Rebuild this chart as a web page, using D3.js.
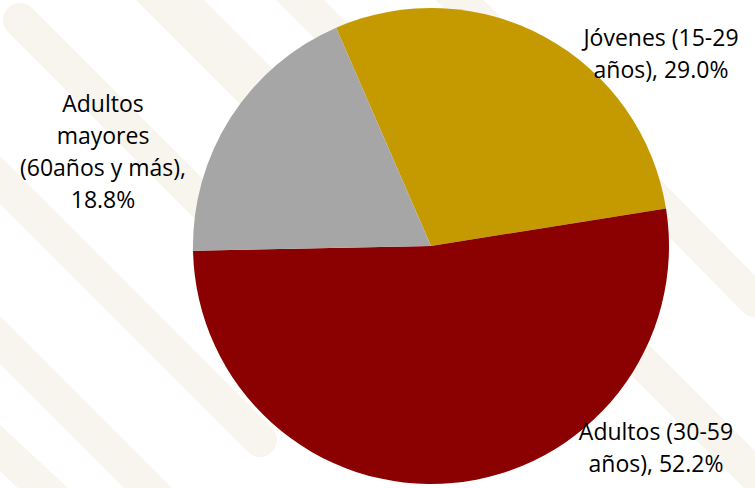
<!DOCTYPE html>
<html>
<head>
<meta charset="utf-8">
<script src="https://cdn.jsdelivr.net/npm/d3@7"></script>
<style>
  body { margin: 0; background: #fff; }
  svg { display: block; }
</style>
</head>
<body>
<div id="chart"></div>
<script>
// Población por grupo de edad
const categories = ["Jóvenes (15-29 años)", "Adultos (30-59 años)", "Adultos mayores (60años y más)"];
const values = [29.0, 52.2, 18.8];
const colors = ["#C59A00", "#8B0000", "#A6A6A6"];
const labelLines = [
  ["Jóvenes (15-29", "años), 29.0%"],
  ["Adultos (30-59", "años), 52.2%"],
  ["Adultos", "mayores", "(60años y más),", "18.8%"]
];

const width = 755;
const height = 488;
const cx = 431, cy = 246, radius = 238;

const svg = d3.select("#chart")
  .append("svg")
  .attr("width", width)
  .attr("height", height);

// faint background pattern (decorative stripes)
const stripes = [
  [-60, 120, 260, 440], [-40, 300, 200, 540], [20, 20, 330, 330],
  [120, -40, 420, 260], [260, -40, 520, 220], [430, -30, 755, 300],
  [540, 260, 800, 520], [-30, 420, 120, 560], [180, 0, 280, 100]
];
svg.append("g")
  .selectAll("line")
  .data(stripes)
  .enter()
  .append("line")
  .attr("x1", d => d[0]).attr("y1", d => d[1])
  .attr("x2", d => d[2]).attr("y2", d => d[3])
  .attr("stroke", "#f8f4ee")
  .attr("stroke-width", 34)
  .attr("stroke-linecap", "round");

const pie = d3.pie()
  .sort(null)
  .value(d => d)
  .startAngle(-0.41)
  .endAngle(-0.41 + 2 * Math.PI);

const arc = d3.arc().innerRadius(0).outerRadius(radius);

svg.append("g")
  .attr("transform", `translate(${cx},${cy})`)
  .selectAll("path")
  .data(pie(values))
  .enter()
  .append("path")
  .attr("d", arc)
  .attr("fill", (d, i) => colors[i])
  .attr("stroke", "none");

// Labels
const labelPos = [
  { x: 661, y: 46 },
  { x: 656, y: 440 },
  { x: 103, y: 112 }
];
const lineH = 32;

labelLines.forEach((lines, i) => {
  const t = svg.append("text")
    .attr("text-anchor", "middle")
    .attr("font-family", "'Open Sans', sans-serif")
    .attr("font-size", 23)
    .attr("fill", "#000");
  lines.forEach((s, j) => {
    t.append("tspan")
      .attr("x", labelPos[i].x)
      .attr("y", labelPos[i].y + j * lineH)
      .text(s);
  });
});
</script>
</body>
</html>
